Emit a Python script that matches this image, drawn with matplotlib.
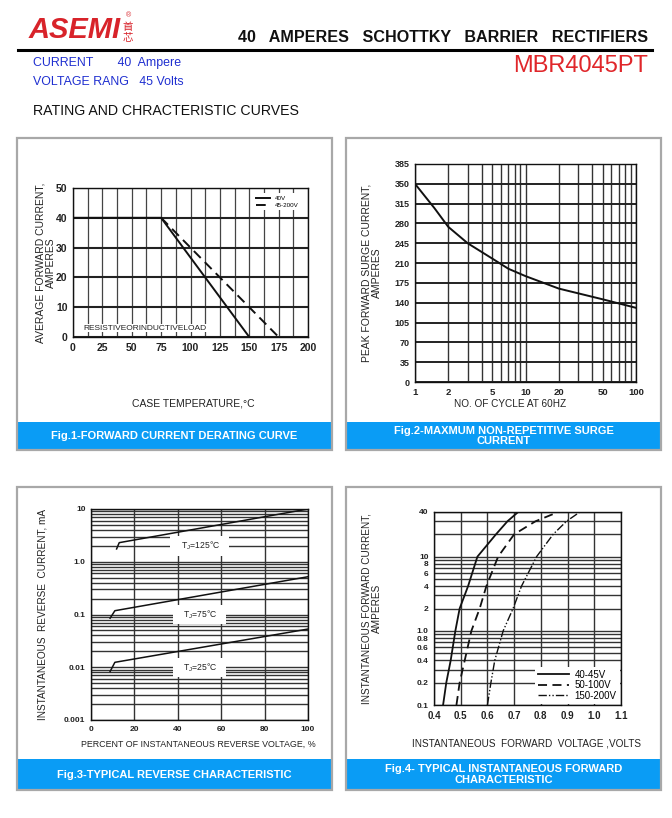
import matplotlib
matplotlib.use("Agg")
import matplotlib.pyplot as plt
from matplotlib.patches import Rectangle
from matplotlib.ticker import FixedLocator, NullFormatter, FixedFormatter

plt.rcParams['font.family'] = ['Liberation Sans', 'DejaVu Sans']
plt.rcParams['mathtext.default'] = 'regular'

# Fig.1 derating curve
temp_40v = [0, 75, 150]
amp_40v = [40, 40, 0]
temp_hv = [75, 175]
amp_hv = [40, 0]

# Fig.2 surge current
cycles = [1, 1.5, 2, 3, 5, 7, 10, 20, 50, 100]
surge_amps = [350, 307, 274, 245, 218, 200, 187, 165, 146, 131]

# Fig.3 reverse characteristic
pct_125 = [11.8, 13, 100]
ir_125 = [1.75, 2.3, 10]
pct_75 = [8.8, 11, 100]
ir_75 = [0.085, 0.118, 0.52]
pct_25 = [8.8, 11, 100]
ir_25 = [0.0083, 0.0124, 0.053]

# Fig.4 forward characteristic
if_amps = [0.1, 0.2, 0.4, 1, 2, 4, 10, 20, 30, 40]
vf_low = [0.434, 0.446, 0.4625, 0.48, 0.496, 0.5275, 0.5625, 0.632, 0.675, 0.715]
vf_mid = [0.484, 0.496, 0.515, 0.54, 0.571, 0.596, 0.64, 0.70, 0.78, 0.865]
vf_high = [0.60, 0.613, 0.6275, 0.659, 0.696, 0.7275, 0.784, 0.846, 0.896, 0.946]

W, H = 672, 818
BLUE = '#0a9cf5'
fig = plt.figure(figsize=(W / 100, H / 100), dpi=100)


def rect(x0, y0, x1, y1):
    return [x0 / W, 1 - y1 / H, (x1 - x0) / W, (y1 - y0) / H]


def ftext(x, y, s, **kw):
    return fig.text(x / W, 1 - y / H, s, **kw)


def panel(x0, y0, x1, y1, band_top, caption):
    fig.add_artist(Rectangle((x0 / W, 1 - y1 / H), (x1 - x0) / W, (y1 - band_top) / H,
                             transform=fig.transFigure, fc=BLUE, ec='none'))
    fig.add_artist(Rectangle((x0 / W, 1 - y1 / H), (x1 - x0) / W, (y1 - y0) / H,
                             transform=fig.transFigure, fill=False, ec='#a8a8a8', lw=1.6))
    ftext((x0 + x1) / 2, (band_top + y1) / 2, caption, color='white', fontsize=8,
          fontweight='bold', ha='center', va='center', linespacing=1.05)


def style(ax, xsize, ysize):
    for s in ax.spines.values():
        s.set_linewidth(1.0)
        s.set_color('#111111')
    ax.tick_params(which='both', length=0, pad=4, colors='#222222')
    ax.tick_params(axis='x', labelsize=xsize)
    ax.tick_params(axis='y', labelsize=ysize)
    for lab in ax.get_xticklabels() + ax.get_yticklabels():
        lab.set_fontweight('bold')
    ax.set_axisbelow(True)


# ---------------- header ----------------
ftext(29, 30, 'ASEMI', color='#d8232a', fontsize=21, fontweight='bold', style='italic',
      va='center', ha='left')
ftext(128, 16, '®', color='#d8232a', fontsize=5, ha='center', va='center')
ftext(128, 27, '首', color='#d8232a', fontsize=7.5, ha='center', va='center',
      family=['Noto Sans CJK SC', 'DejaVu Sans'])
ftext(128, 38, '芯', color='#d8232a', fontsize=7.5, ha='center', va='center',
      family=['Noto Sans CJK SC', 'DejaVu Sans'])
ftext(648, 38, '40   AMPERES   SCHOTTKY   BARRIER   RECTIFIERS', fontsize=11.6,
      fontweight='bold', ha='right', va='center', color='#111111')
fig.add_artist(plt.Line2D([18 / W, 652 / W], [1 - 50 / H, 1 - 50 / H],
                          transform=fig.transFigure, color='black', lw=2.2))
ftext(33, 63, 'CURRENT       40  Ampere', color='#1f2fd0', fontsize=8.9, va='center')
ftext(33, 82, 'VOLTAGE RANG   45 Volts', color='#1f2fd0', fontsize=8.9, va='center')
ftext(648, 66, 'MBR4045PT', color='#e0262a', fontsize=17, ha='right', va='center')
ftext(33, 111, 'RATING AND CHRACTERISTIC CURVES', fontsize=10.2, va='center',
      color='#111111')

# ---------------- panels ----------------
panel(17, 138, 332, 450, 422, 'Fig.1-FORWARD CURRENT DERATING CURVE')
panel(346, 138, 661, 450, 422, 'Fig.2-MAXMUM NON-REPETITIVE SURGE\nCURRENT')
panel(17, 487, 332, 790, 759, 'Fig.3-TYPICAL REVERSE CHARACTERISTIC')
panel(346, 487, 661, 790, 759, 'Fig.4- TYPICAL INSTANTANEOUS FORWARD\nCHARACTERISTIC')

# ---------------- Fig.1 ----------------
ax1 = fig.add_axes(rect(73, 188, 308, 337))
ax1.plot(temp_40v, amp_40v, color='#111111', lw=1.4, label='40V')
ax1.plot(temp_hv, amp_hv, color='#111111', lw=1.4, ls=(0, (5, 3)), label='45-200V')
ax1.set_xlim(0, 200)
ax1.set_ylim(0, 50)
ax1.set_xticks(range(0, 201, 25))
ax1.xaxis.set_minor_locator(FixedLocator([12.5 + 25 * i for i in range(8)]))
ax1.set_yticks(range(0, 51, 10))
ax1.grid(axis='x', which='both', color='#444444', lw=0.9)
ax1.grid(axis='y', color='#222222', lw=1.5)
style(ax1, 7.5, 7.5)
ax1.text(9, 3, 'RESISTIVEORINDUCTIVELOAD', fontsize=6, color='#222222', va='center',
         bbox=dict(fc='white', ec='none', pad=0.5))
ax1.legend(loc='upper right', fontsize=4.5, frameon=True, fancybox=False,
           edgecolor='none', framealpha=1, handlelength=2.2, borderpad=0.4,
           labelspacing=0.2, bbox_to_anchor=(0.985, 0.985))
ax1.set_ylabel('AVERAGE FORWARD CURRENT,\nAMPERES', fontsize=7.5, color='#222222',
               linespacing=1.05, labelpad=0)
ftext(193, 404, 'CASE TEMPERATURE,°C', fontsize=7.5, ha='center', va='center',
      color='#222222')

# ---------------- Fig.2 ----------------
ax2 = fig.add_axes(rect(415, 164, 636, 382))
ax2.plot(cycles, surge_amps, color='#111111', lw=1.4)
ax2.set_xscale('log')
ax2.set_xlim(1, 100)
ax2.set_ylim(0, 385)
ax2.xaxis.set_major_locator(FixedLocator([1, 2, 5, 10, 20, 50, 100]))
ax2.xaxis.set_major_formatter(FixedFormatter(['1', '2', '5', '10', '20', '50', '100']))
ax2.xaxis.set_minor_locator(FixedLocator([3, 4, 6, 7, 8, 9, 30, 40, 60, 70, 80, 90]))
ax2.xaxis.set_minor_formatter(NullFormatter())
ax2.set_yticks(range(0, 386, 35))
ax2.grid(axis='x', which='both', color='#333333', lw=1.0)
ax2.grid(axis='y', color='#222222', lw=1.4)
style(ax2, 6.8, 6.5)
ax2.set_ylabel('PEAK FORWARD SURGE CURRENT,\nAMPERES', fontsize=7.5, color='#222222',
               linespacing=1.05, labelpad=9)
ftext(510, 404, 'NO. OF CYCLE AT 60HZ', fontsize=7.2, ha='center', va='center',
      color='#222222')

# ---------------- Fig.3 ----------------
ax3 = fig.add_axes(rect(91, 509, 308, 720))
ax3.plot(pct_125, ir_125, color='#111111', lw=1.1)
ax3.plot(pct_75, ir_75, color='#111111', lw=1.1)
ax3.plot(pct_25, ir_25, color='#111111', lw=1.1)
ax3.set_yscale('log')
ax3.set_xlim(0, 100)
ax3.set_ylim(0.001, 10)
ax3.set_xticks(range(0, 101, 20))
ax3.yaxis.set_major_locator(FixedLocator([0.001, 0.01, 0.1, 1, 10]))
ax3.yaxis.set_major_formatter(FixedFormatter(['0.001', '0.01', '0.1', '1.0', '10']))
ax3.yaxis.set_minor_locator(FixedLocator([m * 10.0 ** e for e in range(-3, 1)
                                          for m in range(2, 10)]))
ax3.yaxis.set_minor_formatter(NullFormatter())
ax3.grid(axis='y', which='both', color='#333333', lw=1.0)
ax3.grid(axis='x', color='#333333', lw=1.0)
style(ax3, 6, 6)
for yv, lab in [(2.0, '125'), (0.1, '75'), (0.01, '25')]:
    ax3.text(50, yv, '   T$_J$=' + lab + '°C   ', fontsize=6.2, ha='center', va='center',
             color='#222222', bbox=dict(fc='white', ec='none', pad=2.5))
ax3.set_ylabel('INSTANTANEOUS  REVERSE  CURRENT, mA', fontsize=7.2, color='#222222',
               labelpad=12)
ftext(198, 744, 'PERCENT OF INSTANTANEOUS REVERSE VOLTAGE, %', fontsize=6.4,
      ha='center', va='center', color='#222222')

# ---------------- Fig.4 ----------------
ax4 = fig.add_axes(rect(434, 512, 621, 705))
ax4.plot(vf_low, if_amps, color='#111111', lw=1.3, label='40-45V')
ax4.plot(vf_mid, if_amps, color='#111111', lw=1.3, ls=(0, (5, 3)), label='50-100V')
ax4.plot(vf_high, if_amps, color='#111111', lw=1.0, ls=(0, (6, 1.5, 1, 1.5, 1, 1.5)),
         label='150-200V')
ax4.set_yscale('log')
ax4.set_xlim(0.4, 1.1)
ax4.set_ylim(0.1, 40)
ax4.set_xticks([0.4, 0.5, 0.6, 0.7, 0.8, 0.9, 1.0, 1.1])
ax4.set_xticklabels(['0.4', '0.5', '0.6', '0.7', '0.8', '0.9', '1.0', '1.1'])
y4_major = [0.1, 0.2, 0.4, 0.6, 0.8, 1, 2, 4, 6, 8, 10, 40]
y4_labels = ['0.1', '0.2', '0.4', '0.6', '0.8', '1.0', '2', '4', '6', '8', '10', '40']
ax4.yaxis.set_major_locator(FixedLocator(y4_major))
ax4.yaxis.set_major_formatter(FixedFormatter(y4_labels))
ax4.yaxis.set_minor_locator(FixedLocator([0.3, 0.5, 0.7, 0.9, 3, 5, 7, 9, 20, 30]))
ax4.yaxis.set_minor_formatter(NullFormatter())
ax4.grid(axis='y', which='both', color='#333333', lw=1.0)
ax4.grid(axis='x', color='#333333', lw=1.0)
style(ax4, 7, 6)
ax4.legend(loc='lower right', fontsize=7, frameon=True, fancybox=False, edgecolor='none',
           framealpha=1, handlelength=3.2, borderpad=0.3, labelspacing=0.05,
           borderaxespad=0.15, handletextpad=0.6)
ax4.set_ylabel('INSTANTANEOUS FORWARD CURRENT,\nAMPERES', fontsize=7.2, color='#222222',
               linespacing=1.05, labelpad=25)
ftext(527, 744, 'INSTANTANEOUS  FORWARD  VOLTAGE ,VOLTS', fontsize=7.2, ha='center',
      va='center', color='#222222')

fig.savefig('out.png', dpi=100)
